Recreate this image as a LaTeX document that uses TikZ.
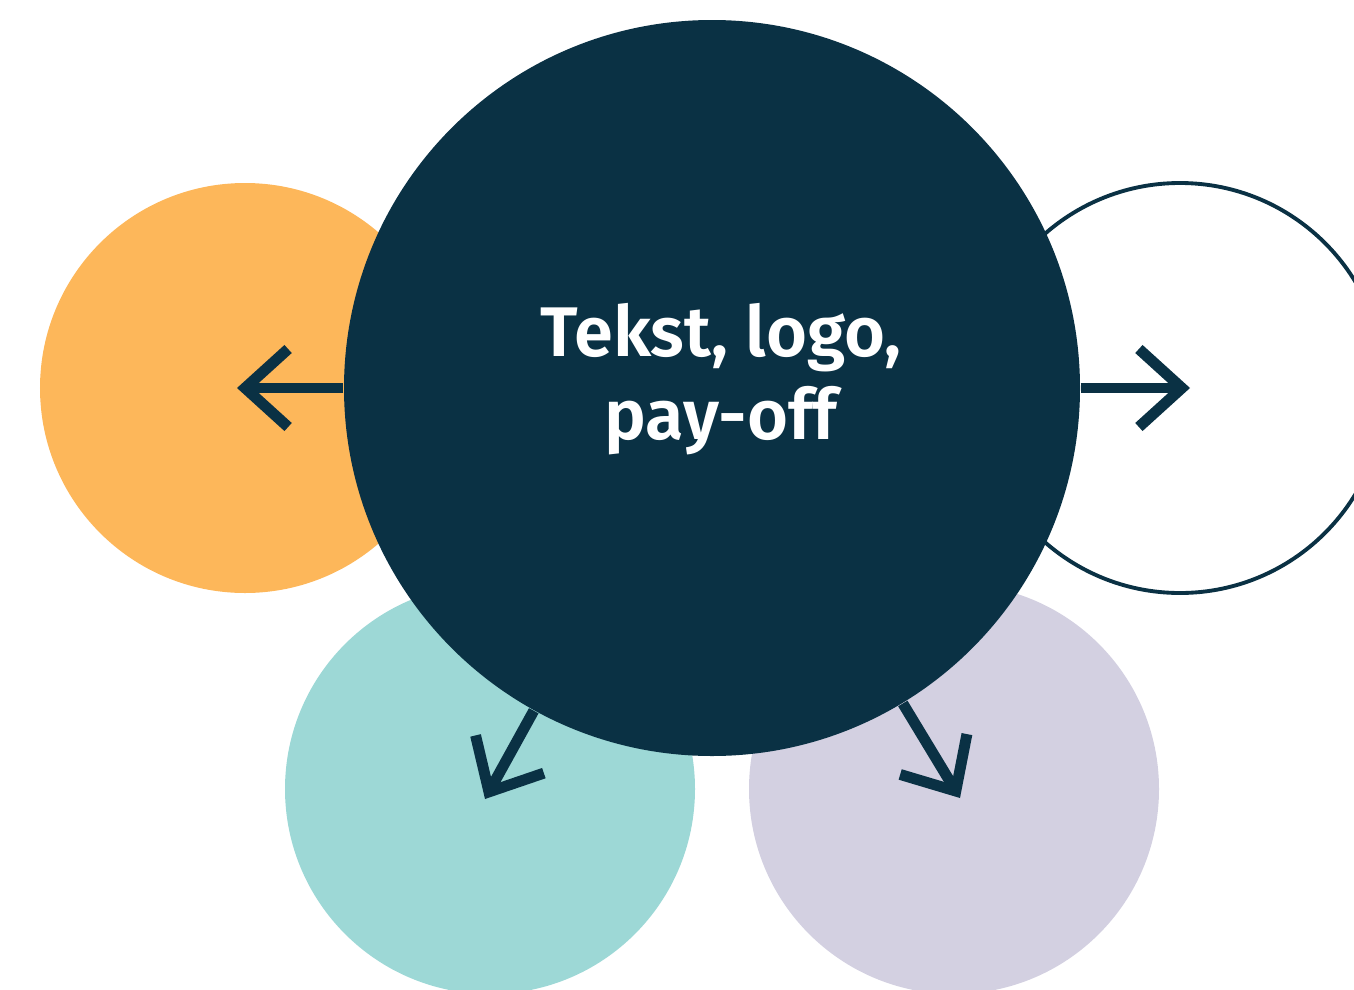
\documentclass[tikz,border=0pt]{standalone}
\usepackage{fontspec}
\setmainfont{Fira Sans}[BoldFont={Fira Sans SemiBold}]
\usetikzlibrary{arrows.meta}
\definecolor{navy}{HTML}{0A3144}
\definecolor{sun}{HTML}{FDB75A}
\definecolor{mint}{HTML}{9DD8D6}
\definecolor{lilac}{HTML}{D3D0E1}
\begin{document}
\begin{tikzpicture}
	[	hub/.style={circle,fill=navy,minimum size=7.36cm,inner sep=0pt},
	bubble/.style={circle,minimum size=4.1cm,inner sep=0pt},
	plain/.style={text=white,align=center,font=\fontsize{20}{23.6}\selectfont\bfseries},
	arr/.style={draw=navy,line width=3.1pt,-{Straight Barb[length=4.3mm,width=7.8mm,sharp]}}
	]
	\useasboundingbox (0,0) rectangle (13.54,9.89);
	\clip (0,0) rectangle (13.54,9.89);
	\node[bubble,fill=sun] (left) at (2.45,6.01){};
	\node[bubble,draw=navy,line width=1.1pt,fill=white] (right) at (11.80,6.01){};
	\node[bubble,fill=mint] (southwest) at (4.90,2.00){};
	\node[bubble,fill=lilac] (southeast) at (9.54,2.00){};
	\node[hub] (hub) at (7.12,6.01){};
	\node[plain] (label) at (7.21,6.10){Tekst, logo,\\pay-off};

\coordinate (tipw) at ([shift={(-4.75,0)}]hub.center);
\coordinate (tipe) at ([shift={(4.78,0)}]hub.center);
\coordinate (tipsw) at ([shift={(-2.27,-4.11)}]hub.center);
\coordinate (tipse) at ([shift={(2.48,-4.10)}]hub.center);
	\draw[arr] (hub) -- (tipw);
	\draw[arr] (hub) -- (tipe);
	\draw[arr] (hub) -- (tipsw);
	\draw[arr] (hub) -- (tipse);
\end{tikzpicture}
\end{document}
